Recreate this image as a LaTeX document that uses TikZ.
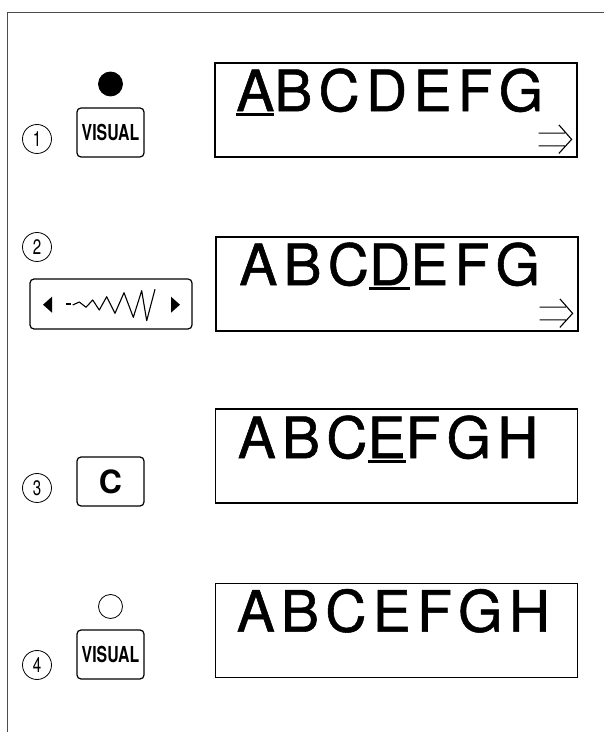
\documentclass[tikz,border=0pt]{standalone}
\usepackage{fontspec}
\setmainfont{TeX Gyre Heros}
\newfontfamily\lcdfont[LetterSpace=11, FakeBold=1]{TeX Gyre Heros}
\newfontfamily\keyfont[FakeStretch=0.72]{TeX Gyre Heros}
\usetikzlibrary{positioning}
\newcommand\curs[1]{\setbox0=\hbox{#1}\rlap{\rule[-4.5pt]{\wd0}{2.4pt}}\box0}

\begin{document}
\begin{tikzpicture}[
        x=1pt, y=1pt,
        display/.style={
            draw,
            line width=1.8pt,
            minimum width=362pt,
            minimum height=94pt,
            inner sep=0pt
        },
        lcd/.style={anchor=base west, inner sep=0pt, font=\lcdfont\fontsize{57}{57}\selectfont},
        key/.style={
            draw,
            rounded corners=4pt,
            line width=1.2pt,
            minimum width=67pt,
            minimum height=49pt,
            inner sep=0pt
        },
        visual/.style={key, font=\keyfont\bfseries\fontsize{22}{22}\selectfont},
        num/.style={draw, circle, line width=0.8pt, minimum size=29pt, inner sep=0pt,
            font=\keyfont\fontsize{21}{21}\selectfont},
        led/.style={draw, circle, line width=0.8pt, minimum size=24pt, inner sep=0pt},
        more/.style={line width=1.1pt, line join=miter}
    ]
        \useasboundingbox (0,0) rectangle (604,732);
        \draw[line width=1.4pt, black!70] (7.5,0) -- (7.5,719.3) -- (604,719.3);

        % Step 1: VISUAL on
        \node[num] (n1) at (37,593) {1};
        \node[visual] (visual1) at (110.5,599.5) {VISUAL};
        \node[led, fill=black, above=11pt of visual1] (led1) {};
        \node[display] (disp1) at (396,622) {};
        \node[lcd, xshift=22pt, yshift=-49pt] (txt1) at (disp1.north west) {\curs{A}BCDEFG};
        \draw[more, shift={(disp1.south east)}]
            (-39.3,24.7) -- (-13,24.7) (-39.3,12) -- (-13,12)
            (-19,33) -- (-6.3,18.5) -- (-19,4.5);

        % Step 2: move cursor
        \node[num] (n2) at (37,485) {2};
        \node[key, minimum width=162pt, minimum height=50pt] (stitch) at (111,428) {};
        \fill ([shift={(-68,-0.7)}]stitch.center) -- ++(9,8) -- ++(0,-16) -- cycle;
        \fill ([shift={(69,-0.7)}]stitch.center) -- ++(-9,8) -- ++(0,-16) -- cycle;
        \draw[line width=1.1pt, shift={(stitch.center)}] (-45,0) -- (-40,0);
        \draw[line width=1.1pt, line join=round, shift={(stitch.center)}]
            (-38.3,-1) -- (-31.7,2) -- (-25,-3.3) -- (-18.3,4) -- (-11.7,-6) -- (-4.3,7.3)
            -- (4,-9.3) -- (13,11.3) -- (22.3,-13.3) -- (30.7,13.3) -- (35.7,-16.7) -- (44,14.7);
        \node[display] (disp2) at (397,448) {};
        \node[lcd, xshift=24pt, yshift=-49pt] (txt2) at (disp2.north west) {ABC\curs{D}EFG};
        \draw[more, shift={(disp2.south east)}]
            (-39.3,24.7) -- (-13,24.7) (-39.3,12) -- (-13,12)
            (-19,33) -- (-6.3,18.5) -- (-19,4.5);

        % Step 3: clear
        \node[num] (n3) at (37,244) {3};
        \node[key, font=\bfseries\fontsize{32}{32}\selectfont] (clear) at (110.5,250.5) {C};
        \node[display] (disp3) at (396.5,276) {};
        \node[lcd, xshift=23pt, yshift=-50pt] (txt3) at (disp3.north west) {ABC\curs{E}FGH};

        % Step 4: VISUAL off
        \node[num] (n4) at (37,67) {4};
        \node[visual] (visual4) at (110.5,77.5) {VISUAL};
        \node[led, above=10.5pt of visual4] (led4) {};
        \node[display] (disp4) at (396.5,101.5) {};
        \node[lcd, xshift=22pt, yshift=-49pt] (txt4) at (disp4.north west) {ABCEFGH};
    \end{tikzpicture}
\end{document}
